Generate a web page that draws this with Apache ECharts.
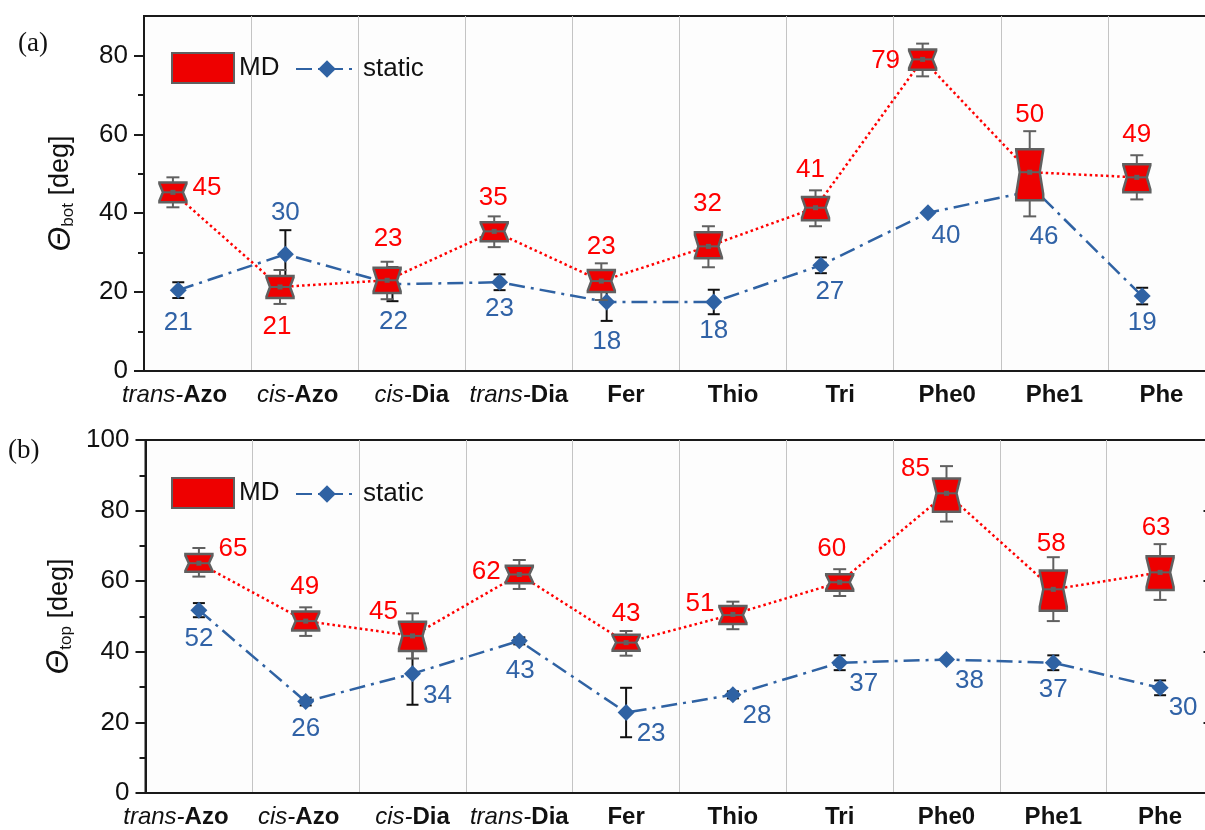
<!DOCTYPE html>
<html><head><meta charset="utf-8">
<script src="https://cdn.jsdelivr.net/npm/echarts@6/dist/echarts.min.js"></script>
<style>html,body{margin:0;padding:0;background:#fff}#c{width:1205px;height:830px}</style>
</head><body><div id="c"></div>
<script>
// ---------------- data ----------------
const categories = ['trans-Azo','cis-Azo','cis-Dia','trans-Dia','Fer','Thio','Tri','Phe0','Phe1','Phe'];
// (a) theta_bot : MD boxes [lowWhisker, q1, median, q3, highWhisker]
const mdBotBox = [
  [41.5,42.8,45.3,47.8,49.1],[17.0,18.5,21.3,24.1,25.6],[18.2,19.8,23.0,26.2,27.7],
  [31.4,32.9,35.4,37.7,39.2],[18.0,20.0,22.8,25.6,27.3],[26.3,28.6,31.6,35.2,36.7],
  [36.7,38.2,41.4,44.1,45.8],[74.7,76.4,79.0,81.5,83.0],[39.2,43.3,50.4,56.2,60.8],
  [43.5,45.3,49.1,52.4,54.7]];
const mdBotMean = [45.3,21.3,23.0,35.4,22.8,31.6,41.4,79.0,50.4,49.1];
const staticBot = [20.5,29.6,22.0,22.5,17.5,17.5,26.8,40.1,45.8,19.0];
const staticBotErr = [2.0,6.1,4.3,2.0,4.8,3.1,2.0,0,0,2.1];
// (b) theta_top
const mdTopBox = [
  [61.3,62.7,65.1,67.7,69.4],[44.5,46.0,48.7,51.4,52.6],[38.1,40.2,44.5,48.5,50.9],
  [57.8,59.4,61.9,64.4,66.0],[38.9,40.3,42.6,44.8,45.9],[46.4,47.9,50.4,53.0,54.2],
  [55.8,57.3,59.7,62.0,63.4],[76.9,79.7,84.9,89.1,92.6],[48.7,51.6,57.7,63.0,66.8],
  [54.7,57.5,62.5,67.1,70.5]];
const mdTopMean = [65.1,48.7,44.5,61.9,42.6,50.6,59.7,84.9,57.7,62.5];
const staticTop = [51.8,25.9,33.8,43.1,22.8,27.8,36.9,37.8,36.9,29.8];
const staticTopErr = [2.0,1.1,8.8,1.0,7.0,1.0,2.1,0,2.1,2.1];
const yTicksA = [0,20,40,60,80];
const yMinorA = [10,30,50,70];

// ---------------- layout (label offsets in px) ----------------
const labOffMDa = [[34,-4],[-3,40],[1,-41],[-1,-34],[0,-34],[-1,-43],[-5,-38],[-37,1],[0,-57],[0,-42]];
const labOffSTa = [[0,33],[0,-41],[1,38],[0,27],[0,40],[0,29],[9,27],[18,23],[9,46],[0,27]];
const labOffMDb = [[34,-14],[-1,-34],[-29,-24],[-33,-3],[0,-29],[-33,-11],[-8,-33],[-31,-24],[-2,-45],[-4,-45]];
const labOffSTb = [[0,29],[0,27],[25,22],[1,30],[25,21],[24,21],[24,21],[23,21],[0,27],[23,20]];

const RED = '#ee0000', LRED = '#ff0000', GRAY = '#606060', BLUE = '#2f62a3', LBLUE = '#3062a6', INK = '#1a1a1a';
const FONT = '"Liberation Sans", Arial, sans-serif';

function boxItem(params, api) {
  const x = api.value(0);
  const lo = api.value(1), q1 = api.value(2), med = api.value(3), q3 = api.value(4), hi = api.value(5), mean = api.value(6);
  const Y = v => api.coord([x, v])[1];
  const cx = api.coord([x, med])[0];
  const hw = 13.5, cap = 6.5, inset = 3.5;
  const nh = 0.43 * (q3 - q1);
  const nT = Y(Math.min(q3, med + nh)), nB = Y(Math.max(q1, med - nh));
  const yq3 = Y(q3), yq1 = Y(q1), ym = Y(med), yh = Y(hi), yl = Y(lo);
  const ls = {stroke: GRAY, lineWidth: 2};
  const pts = [[cx-hw,yq3],[cx+hw,yq3],[cx+hw,nT],[cx+hw-inset,ym],[cx+hw,nB],[cx+hw,yq1],
               [cx-hw,yq1],[cx-hw,nB],[cx-hw+inset,ym],[cx-hw,nT]];
  return {type:'group', children:[
    {type:'line', shape:{x1:cx,y1:yh,x2:cx,y2:yq3}, style:ls},
    {type:'line', shape:{x1:cx-cap,y1:yh,x2:cx+cap,y2:yh}, style:ls},
    {type:'line', shape:{x1:cx,y1:yl,x2:cx,y2:yq1}, style:ls},
    {type:'line', shape:{x1:cx-cap,y1:yl,x2:cx+cap,y2:yl}, style:ls},
    {type:'polygon', shape:{points:pts}, style:{fill:RED, stroke:GRAY, lineWidth:2.5, lineJoin:'miter'}},
    {type:'line', shape:{x1:cx-hw+inset,y1:ym,x2:cx+hw-inset,y2:ym}, style:ls},
    {type:'rect', shape:{x:cx-2.5,y:Y(mean)-2.5,width:5,height:5}, style:{fill:GRAY}}
  ]};
}
function errItem(params, api) {
  const x = api.value(0), v = api.value(1), e = api.value(2);
  if (!(e > 0)) return null;
  const p1 = api.coord([x, v + e]), p2 = api.coord([x, v - e]);
  const cap = 6, ls = {stroke: '#111', lineWidth: 2};
  return {type:'group', children:[
    {type:'line', shape:{x1:p1[0],y1:p1[1],x2:p2[0],y2:p2[1]}, style:ls},
    {type:'line', shape:{x1:p1[0]-cap,y1:p1[1],x2:p1[0]+cap,y2:p1[1]}, style:ls},
    {type:'line', shape:{x1:p2[0]-cap,y1:p2[1],x2:p2[0]+cap,y2:p2[1]}, style:ls}
  ]};
}

function catLabel(v, i) {
  const m = v.match(/^(trans-|cis-)(.*)$/);
  const sp = i === 0 ? '{sp| }' : (i === 1 ? '{sp2| }' : '');
  if (m) return '{it|' + m[1] + '}{b|' + m[2] + '}' + sp;
  return '{b|' + v + '}';
}
const catRich = {
  it: {fontStyle:'italic', fontWeight:'normal', fontSize:24, fontFamily:FONT, color:'#111'},
  b: {fontWeight:'bold', fontSize:24, fontFamily:FONT, color:'#111'},
  sp: {width:46, fontSize:24},
  sp2: {width:14, fontSize:24}
};

function panel(gi, boxes, means, stat, err, labMD, labST, boxShift, statShift) {
  const xa = gi * 2 + 1; // hidden value axis index
  const ya = gi === 0 ? 0 : 2;
  const lab = (c) => ({show:true, position:'inside', color:c, opacity:1, fontSize:26, fontFamily:FONT,
        formatter: p => String(Math.round(p.value[1]))});
  return [
    {type:'custom', xAxisIndex:xa, yAxisIndex:ya, z:2, silent:true, renderItem:errItem,
      encode:{x:0, y:[1]},
      data: stat.map((v,i)=>[i+statShift, v, err[i]])},
    {type:'line', name:'static', xAxisIndex:xa, yAxisIndex:ya, z:3, silent:true,
      symbol:'diamond', symbolSize:17, color:BLUE, itemStyle:{color:BLUE},
      lineStyle:{color:BLUE, width:2.5, type:[16,6,3,6]},
      data: stat.map((v,i)=>[i+statShift, v])},
    {type:'line', name:'MDmean', xAxisIndex:xa, yAxisIndex:ya, z:4, silent:true, symbol:'none',
      lineStyle:{color:LRED, width:2.5, type:[2.5,3]},
      data: means.map((v,i)=>[i+boxShift, v])},
    {type:'custom', name:'MD', xAxisIndex:xa, yAxisIndex:ya, z:5, silent:true, renderItem:boxItem,
      encode:{x:0, y:[1,2,3,4,5]},
      data: boxes.map((b,i)=>[i+boxShift, b[0], b[1], b[2], b[3], b[4], means[i]])},
    {type:'scatter', xAxisIndex:xa, yAxisIndex:ya, z:6, silent:true, symbolSize:1,
      itemStyle:{color:'rgba(0,0,0,0)', opacity:1}, label:lab(LRED),
      data: means.map((v,i)=>({value:[i+boxShift, v], label:{offset:labMD[i]}}))},
    {type:'scatter', xAxisIndex:xa, yAxisIndex:ya, z:6, silent:true, symbolSize:1,
      itemStyle:{color:'rgba(0,0,0,0)', opacity:1}, label:lab(LBLUE),
      data: stat.map((v,i)=>({value:[i+statShift, v], label:{offset:labST[i]}}))}
  ];
}

function catAxis(gi) {
  return {type:'category', gridIndex:gi, data:categories, boundaryGap:true,
    axisLine:{onZero:false, lineStyle:{color:INK, width:2}},
    axisTick:{alignWithLabel:true, length:7, lineStyle:{color:INK, width:2}},
    splitLine:{show:true, lineStyle:{color:'#c4c4c4', width:1}},
    axisLabel:{margin:12, formatter:catLabel, rich:catRich, interval:0}};
}
function hidX(gi) { return {type:'value', gridIndex:gi, min:-0.5, max:9.5, show:false, axisLine:{onZero:false}}; }
function yName(sub) {
  return {name:'{t|Θ}{s|' + sub + '}{n| [deg]}', nameLocation:'middle', nameRotate:90, nameGap:67,
    nameTextStyle:{rich:{
      t:{fontStyle:'italic', fontSize:32, fontFamily:FONT, color:'#111', lineHeight:32},
      s:{fontSize:17, fontFamily:FONT, color:'#111', verticalAlign:'bottom', lineHeight:17},
      n:{fontSize:27, fontFamily:FONT, color:'#111', lineHeight:32}}}};
}

const option = {
  animation:false,
  backgroundColor:'#ffffff',
  textStyle:{fontFamily:FONT},
  grid:[
    {left:144, top:16, width:1071, height:355, show:true, borderColor:INK, borderWidth:2, backgroundColor:'#fdfdfd',
      containLabel:false, outerBoundsMode:'none'},
    {left:145.5, top:440, width:1068, height:353, show:true, borderColor:INK, borderWidth:2, backgroundColor:'#fdfdfd',
      containLabel:false, outerBoundsMode:'none'}
  ],
  xAxis:[catAxis(0), hidX(0), catAxis(1), hidX(1)],
  yAxis:[
    Object.assign({type:'value', gridIndex:0, position:'left', min:0, max:90,
      axisLine:{show:true, onZero:false, lineStyle:{color:INK, width:2}},
      axisTick:{customValues:yTicksA, length:10, lineStyle:{color:INK, width:2}},
      axisLabel:{customValues:yTicksA, fontSize:26, color:'#111', margin:16, fontFamily:FONT},
      splitLine:{show:false}}, yName('bot')),
    {type:'value', gridIndex:0, position:'left', min:0, max:90,
      axisLine:{show:false, onZero:false}, axisLabel:{show:false}, splitLine:{show:false},
      axisTick:{customValues:yMinorA, length:6, lineStyle:{color:INK, width:2}}},
    Object.assign({type:'value', gridIndex:1, position:'left', min:0, max:100, interval:20,
      axisLine:{show:true, onZero:false, lineStyle:{color:INK, width:2}},
      axisTick:{length:10, lineStyle:{color:INK, width:2}},
      minorTick:{show:true, splitNumber:2, length:6, lineStyle:{color:INK, width:2}},
      axisLabel:{fontSize:26, color:'#111', margin:16, fontFamily:FONT},
      splitLine:{show:false}}, yName('top')),
    {type:'value', gridIndex:1, position:'right', min:0, max:100, interval:20,
      axisLine:{show:true, onZero:false, lineStyle:{color:INK, width:2}}, axisLabel:{show:false}, splitLine:{show:false},
      axisTick:{inside:true, length:10, lineStyle:{color:INK, width:2}}}
  ],
  legend:[
    {left:171, top:52, padding:0, itemWidth:62, itemHeight:30, textStyle:{fontSize:26, color:'#111', fontFamily:FONT},
      data:[{name:'MD', icon:'rect', itemStyle:{color:RED, borderColor:GRAY, borderWidth:2}}]},
    {left:295, top:56, padding:0, itemWidth:62, itemHeight:22, textStyle:{fontSize:26, color:'#111', fontFamily:FONT},
      data:['static']},
    {left:171, top:477, padding:0, itemWidth:62, itemHeight:30, textStyle:{fontSize:26, color:'#111', fontFamily:FONT},
      data:[{name:'MD', icon:'rect', itemStyle:{color:RED, borderColor:GRAY, borderWidth:2}}]},
    {left:295, top:481, padding:0, itemWidth:62, itemHeight:22, textStyle:{fontSize:26, color:'#111', fontFamily:FONT},
      data:['static']}
  ],
  graphic:[
    {type:'rect', left:167, top:48, shape:{width:266, height:38}, style:{fill:'#fff', stroke:'#888', lineWidth:1}, z:-1},
    {type:'rect', left:167, top:472, shape:{width:276, height:40}, style:{fill:'#fff', stroke:'#888', lineWidth:1}, z:-1},
    {type:'text', left:18, top:30, style:{text:'(a)', fontSize:27, fontFamily:'"Liberation Serif", "Times New Roman", serif', fill:'#111'}},
    {type:'text', left:8, top:437, style:{text:'(b)', fontSize:27, fontFamily:'"Liberation Serif", "Times New Roman", serif', fill:'#111'}}
  ],
  series:[].concat(
    panel(0, mdBotBox, mdBotMean, staticBot, staticBotErr, labOffMDa, labOffSTa, -0.23, -0.18),
    panel(1, mdTopBox, mdTopMean, staticTop, staticTopErr, labOffMDb, labOffSTb, 0, 0)
  )
};
const chart = echarts.init(document.getElementById('c'));
chart.setOption(option);
</script></body></html>
